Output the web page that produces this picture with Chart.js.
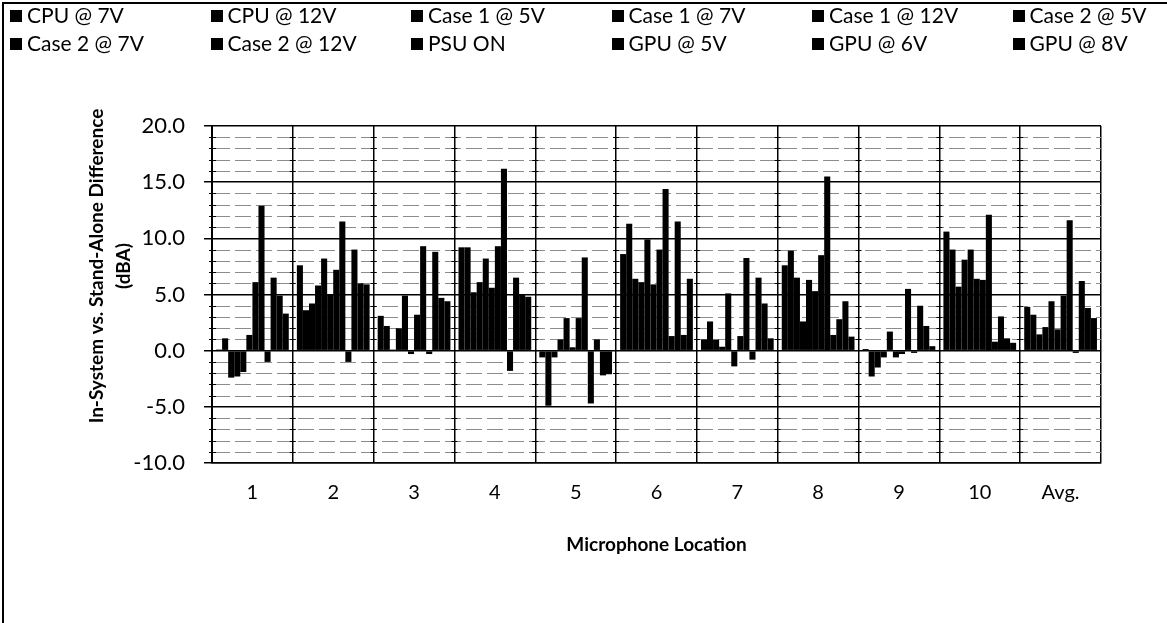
<!DOCTYPE html>
<html>
<head>
<meta charset="utf-8">
<script src="https://cdn.jsdelivr.net/npm/chart.js@4.4.1/dist/chart.umd.min.js"></script>
<style>
  html, body { margin: 0; padding: 0; background: #fff; }
  #wrap { position: relative; width: 1167px; height: 623px; overflow: hidden; }
  #legend { position: absolute; left: 0; top: 0; width: 1167px; height: 70px;
            font-family: Lato, "Liberation Sans", sans-serif; font-size: 21px; color: #000; }
  .item { position: absolute; white-space: nowrap; line-height: 24px; }
  .item span.box { display: inline-block; width: 12px; height: 12px; background: #000;
                   margin-right: 5px; vertical-align: 1px; }
  #frame { position: absolute; left: 2px; top: 2px; width: 1200px; height: 700px;
           border-left: 2px solid #000; border-top: 2px solid #000; }
</style>
</head>
<body>
<div id="wrap">
  <div id="frame"></div>
  <div id="legend"></div>
  <canvas id="c" width="1167" height="623"></canvas>
</div>
<script>
// Microphone positions along the x axis
const locations = ['1', '2', '3', '4', '5', '6', '7', '8', '9', '10', 'Avg.'];

// Noise source configurations (legend order)
const seriesNames = ['CPU @ 7V', 'CPU @ 12V', 'Case 1 @ 5V', 'Case 1 @ 7V', 'Case 1 @ 12V',
  'Case 2 @ 5V', 'Case 2 @ 7V', 'Case 2 @ 12V', 'PSU ON', 'GPU @ 5V', 'GPU @ 6V', 'GPU @ 8V'];

// In-system minus stand-alone level, dBA, per location
const cpu7V     = [0.1, 7.6, 3.1, 9.2, -0.6, 8.6, 1.0, 7.6, 0.15, 10.6, 3.9];
const cpu12V    = [1.1, 3.6, 2.2, 9.2, -4.9, 11.3, 2.6, 8.9, -2.3, 9.0, 3.2];
const case1at5V = [-2.4, 4.2, 0.1, 5.2, -0.6, 6.4, 1.0, 6.5, -1.5, 5.7, 1.45];
const case1at7V = [-2.3, 5.8, 2.0, 6.1, 1.0, 6.1, 0.35, 2.6, -0.6, 8.1, 2.1];
const case1at12V= [-1.9, 8.2, 4.9, 8.2, 2.9, 9.9, 5.1, 6.3, 1.7, 9.0, 4.4];
const case2at5V = [1.4, 5.0, -0.3, 5.6, 0.3, 5.9, -1.4, 5.3, -0.6, 6.4, 1.9];
const case2at7V = [6.1, 7.2, 3.2, 9.3, 2.9, 9.0, 1.3, 8.5, -0.3, 6.3, 4.9];
const case2at12V= [12.9, 11.5, 9.3, 16.2, 8.3, 14.4, 8.25, 15.5, 5.5, 12.1, 11.6];
const psuOn     = [-1.0, -1.0, -0.3, -1.8, -4.7, 1.3, -0.8, 1.4, -0.2, 0.8, -0.2];
const gpu5V     = [6.5, 9.0, 8.8, 6.5, 1.0, 11.5, 6.5, 2.8, 4.0, 3.05, 6.2];
const gpu6V     = [4.9, 6.0, 4.7, 5.0, -2.2, 1.4, 4.2, 4.4, 2.2, 1.1, 3.8];
const gpu8V     = [3.3, 5.9, 4.4, 4.8, -2.1, 6.4, 1.1, 1.25, 0.4, 0.7, 2.9];

// Y axis range and labels
const yMin = -10, yMax = 20, yStep = 5;
const yTickLabels = ['-10.0', '-5.0', '0.0', '5.0', '10.0', '15.0', '20.0'];
const yTitleLines = ['In-System vs. Stand-Alone Difference', '(dBA)'];

const seriesValues = [cpu7V, cpu12V, case1at5V, case1at7V, case1at12V, case2at5V,
  case2at7V, case2at12V, psuOn, gpu5V, gpu6V, gpu8V];

const FONT = 'Lato, "Liberation Sans", sans-serif';

// Legend: two rows of six fixed-width columns
const legendEl = document.getElementById('legend');
seriesNames.forEach((name, i) => {
  const d = document.createElement('div');
  d.className = 'item';
  d.style.left = (10 + 200.5 * (i % 6)) + 'px';
  d.style.top = (3 + 28 * Math.floor(i / 6)) + 'px';
  d.innerHTML = '<span class="box"></span>' + name;
  legendEl.appendChild(d);
});

// Unit-spaced hatch lines behind the bars, and small crossing ticks on
// the value axis and on every category divider
const plotDecor = {
  id: 'plotDecor',
  beforeDatasetsDraw(chart) {
    const { ctx, chartArea: a, scales: { y } } = chart;
    ctx.save();
    ctx.strokeStyle = '#8c8c8c';
    ctx.lineWidth = 1;
    ctx.setLineDash([16, 5]);
    for (let v = yMin + 1; v < yMax; v++) {
      if (v % yStep === 0) continue;
      const py = Math.round(y.getPixelForValue(v)) + 0.5;
      ctx.beginPath();
      ctx.moveTo(a.left + 2, py);
      ctx.lineTo(a.right, py);
      ctx.stroke();
    }
    ctx.restore();
  },
  afterDraw(chart) {
    const { ctx, chartArea: a, scales: { x, y } } = chart;
    ctx.save();
    ctx.strokeStyle = '#000';
    ctx.lineWidth = 1;
    const n = x.ticks.length;
    const step = (a.right - a.left) / n;
    for (let v = yMin + 1; v < yMax; v++) {
      if (v % yStep === 0) continue;
      const py = Math.round(y.getPixelForValue(v)) + 0.5;
      ctx.beginPath();
      ctx.moveTo(a.left - 3, py);
      ctx.lineTo(a.left + 4, py);
      for (let k = 1; k < n; k++) {
        const px = a.left + step * k;
        ctx.moveTo(px - 3, py);
        ctx.lineTo(px + 3, py);
      }
      ctx.stroke();
    }
    // value axis title, two lines
    ctx.fillStyle = '#000';
    ctx.font = 'bold 19px ' + FONT;
    ctx.textAlign = 'center';
    ctx.textBaseline = 'middle';
    ctx.translate(97, 266);
    ctx.rotate(-Math.PI / 2);
    ctx.fillText(yTitleLines[0], 0, 0);
    ctx.fillText(yTitleLines[1], 0, 27);
    ctx.restore();
  }
};

new Chart(document.getElementById('c'), {
  type: 'bar',
  data: {
    labels: locations,
    datasets: seriesNames.map((name, i) => ({
      label: name,
      data: seriesValues[i],
      backgroundColor: '#000',
      borderWidth: 0,
      categoryPercentage: 0.9,
      barPercentage: 1.0
    }))
  },
  options: {
    responsive: false,
    animation: false,
    devicePixelRatio: 1,
    layout: { padding: { left: 0, right: 66, top: 126, bottom: 60 } },
    plugins: { legend: { display: false }, tooltip: { enabled: false } },
    scales: {
      x: {
        grid: { offset: true, color: '#000', lineWidth: 1.5, drawTicks: false },
        border: { color: '#000', width: 1.5 },
        ticks: { color: '#000', font: { family: FONT, size: 20 }, padding: 18, maxRotation: 0 },
        title: { display: true, text: 'Microphone Location', color: '#000',
                 font: { family: FONT, size: 19, weight: 'bold' }, padding: { top: 10, bottom: 7 } },
        afterFit(s) { s.height = 100; }
      },
      y: {
        min: yMin, max: yMax,
        ticks: { stepSize: yStep, color: '#000', font: { family: FONT, size: 22 }, padding: 19,
                 callback: (v) => yTickLabels[(v - yMin) / yStep] },
        grid: { color: '#000', lineWidth: 1.5, tickLength: 8 },
        border: { color: '#000', width: 2 },
        afterFit(s) { s.width = 212; }
      }
    }
  },
  plugins: [plotDecor]
});
</script>
</body>
</html>
